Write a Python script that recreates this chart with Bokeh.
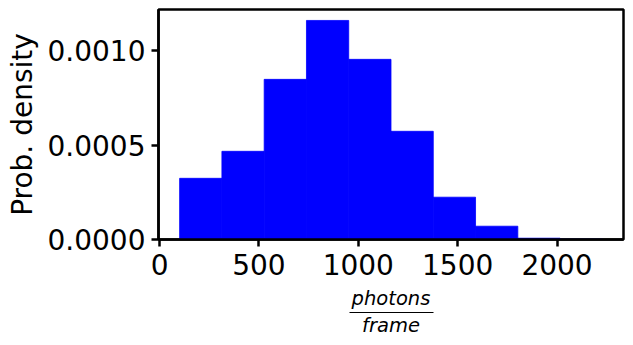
from bokeh.plotting import figure
from bokeh.models import Range1d, FixedTicker, NumeralTickFormatter, LinearAxis
from bokeh.embed import file_html
from bokeh.resources import INLINE

# Histogram data
bin_edges = [101, 313.7, 526.4, 739.1, 951.8, 1164.5, 1377.2, 1589.9, 1802.6, 2015.3, 2228]
density = [0.000324, 0.000467, 0.000848, 0.00116, 0.000954, 0.000573, 0.000224, 0.0000704, 0.0000069, 0.0000016]
x_ticks = [0, 500, 1000, 1500, 2000]
y_ticks = [0.0, 0.0005, 0.0010]
y_tick_labels = ["0.0000", "0.0005", "0.0010"]
y_label = "Prob. density"
x_num = "photons"
x_den = "frame"

W, H = 633, 345
FL, FR, FT, FB = 158, 623, 9, 239

span = bin_edges[-1] - bin_edges[0]
x0 = bin_edges[0] - 0.05 * span
x1 = bin_edges[-1] + 0.05 * span
y1 = max(density) * 1.05

p = figure(width=W, height=H, output_backend="svg", toolbar_location=None,
           x_range=Range1d(x0, x1), y_range=Range1d(0, y1),
           min_border_left=FL, min_border_right=W - FR,
           min_border_top=FT, min_border_bottom=H - FB)
p.grid.visible = False
p.background_fill_color = "white"
p.border_fill_color = "white"
p.outline_line_color = "black"
p.outline_line_width = 2.5

p.quad(left=bin_edges[:-1], right=bin_edges[1:], top=density, bottom=0,
       fill_color="#0000ff", line_color="#0000ff", line_width=0.8)

font = "DejaVu Sans"
for ax in (p.xaxis[0], p.yaxis[0]):
    ax.axis_line_width = 2.5
    ax.major_tick_line_width = 2.5
    ax.major_tick_out = 7
    ax.major_tick_in = 0
    ax.minor_tick_line_color = None
    ax.major_label_text_font = font
    ax.major_label_text_font_size = "28px"
    ax.major_label_text_color = "black"
    ax.axis_line_color = "black"
    ax.major_tick_line_color = "black"

p.xaxis.ticker = FixedTicker(ticks=x_ticks)
p.xaxis.formatter = NumeralTickFormatter(format="0")
p.xaxis.major_label_standoff = 7
p.xaxis.axis_label = x_num
p.xaxis.axis_label_text_font = font
p.xaxis.axis_label_text_font_size = "19.5px"
p.xaxis.axis_label_text_font_style = "italic"
p.xaxis.axis_label_text_color = "black"
p.xaxis.axis_label_standoff = 9

p.yaxis.ticker = FixedTicker(ticks=y_ticks)
p.yaxis.major_label_overrides = {t: l for t, l in zip(y_ticks, y_tick_labels)}
p.yaxis.major_label_standoff = 6
p.yaxis.axis_label = y_label
p.yaxis.axis_label_text_font = font
p.yaxis.axis_label_text_font_size = "28px"
p.yaxis.axis_label_text_font_style = "normal"
p.yaxis.axis_label_text_color = "black"
p.yaxis.axis_label_standoff = 6

def xv(px):
    return x0 + (px - FL) / (FR - FL) * (x1 - x0)

frac = LinearAxis(ticker=FixedTicker(ticks=[]), bounds=(xv(349), xv(432.5)),
                  axis_line_width=1.2, axis_line_color="black",
                  major_tick_out=0, major_tick_in=0, minor_tick_out=0, minor_tick_in=0,
                  major_label_text_font_size="0px", major_label_standoff=0,
                  axis_label=x_den, axis_label_text_font=font,
                  axis_label_text_font_size="19.5px", axis_label_text_font_style="italic",
                  axis_label_text_color="black", axis_label_standoff=1)
p.add_layout(frac, "below")

open("out.html", "w").write(file_html(p, INLINE))
